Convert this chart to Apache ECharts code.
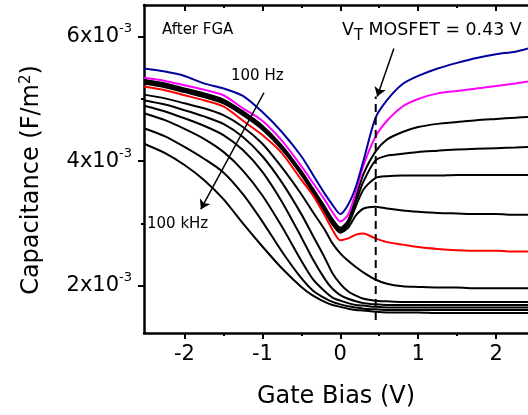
<!DOCTYPE html>
<html><head><meta charset="utf-8">
<script src="https://cdn.jsdelivr.net/npm/echarts@6/dist/echarts.min.js"></script>
<style>html,body{margin:0;padding:0;background:#fff}#c{width:528px;height:415px}</style>
</head><body><div id="c"></div>
<script>
// Gate bias (V)
const gateBias = [-2.52,-2.25,-2,-1.75,-1.5,-1.25,-1,-0.75,-0.5,-0.35,-0.2,-0.1,0,0.1,0.2,0.3,0.45,0.6,0.8,1.0,1.25,1.5,1.75,2.0,2.25,2.41];
// Capacitance (x10^-3 F/m^2), 100 Hz (top) ... 100 kHz (bottom)
const cBlue    = [5.49,5.44,5.37,5.25,5.17,5.05,4.79,4.47,4.08,3.78,3.48,3.30,3.15,3.30,3.59,4.02,4.69,4.98,5.24,5.37,5.49,5.58,5.66,5.72,5.76,5.81];
const cMagenta = [5.34,5.29,5.22,5.15,5.06,4.85,4.65,4.33,3.92,3.65,3.38,3.18,3.03,3.14,3.51,3.94,4.39,4.65,4.88,5.00,5.09,5.13,5.17,5.21,5.25,5.28];
const cA       = [5.31,5.25,5.17,5.09,4.99,4.80,4.57,4.25,3.84,3.56,3.27,3.07,2.93,3.05,3.42,3.80,4.15,4.35,4.47,4.55,4.60,4.63,4.66,4.68,4.70,4.71];
const cB       = [5.29,5.23,5.15,5.07,4.97,4.78,4.55,4.23,3.82,3.54,3.25,3.04,2.90,3.02,3.35,3.68,4.01,4.09,4.12,4.15,4.17,4.19,4.20,4.21,4.22,4.23];
const cC       = [5.27,5.21,5.13,5.05,4.95,4.76,4.53,4.21,3.80,3.52,3.22,3.01,2.87,2.98,3.28,3.55,3.73,3.76,3.77,3.77,3.77,3.78,3.78,3.78,3.78,3.78];
const cD       = [5.25,5.19,5.11,5.03,4.93,4.74,4.51,4.19,3.78,3.49,3.19,2.98,2.85,2.93,3.13,3.24,3.27,3.24,3.21,3.19,3.17,3.16,3.15,3.15,3.14,3.14];
const cRed     = [5.20,5.14,5.06,4.98,4.88,4.65,4.42,4.13,3.70,3.45,3.13,2.90,2.73,2.76,2.82,2.84,2.76,2.70,2.66,2.62,2.59,2.57,2.56,2.56,2.55,2.55];
const cE       = [5.07,5.01,4.93,4.85,4.74,4.55,4.28,3.90,3.47,3.18,2.90,2.68,2.52,2.40,2.30,2.21,2.10,2.03,1.99,1.98,1.97,1.97,1.96,1.96,1.96,1.96];
const cF1      = [4.98,4.91,4.82,4.72,4.60,4.39,4.08,3.66,3.15,2.80,2.45,2.20,2.03,1.91,1.84,1.79,1.76,1.75,1.74,1.74,1.74,1.74,1.74,1.74,1.74,1.74];
const cF2      = [4.89,4.80,4.69,4.57,4.42,4.18,3.83,3.35,2.78,2.42,2.11,1.95,1.85,1.79,1.75,1.72,1.70,1.69,1.69,1.69,1.69,1.69,1.69,1.69,1.69,1.69];
const cF3      = [4.77,4.66,4.52,4.36,4.15,3.85,3.45,2.95,2.40,2.10,1.91,1.81,1.76,1.72,1.69,1.68,1.66,1.65,1.65,1.65,1.65,1.65,1.65,1.65,1.65,1.65];
const cF4      = [4.53,4.40,4.23,4.04,3.82,3.47,3.03,2.55,2.12,1.92,1.80,1.74,1.70,1.67,1.65,1.63,1.62,1.61,1.61,1.61,1.61,1.61,1.61,1.61,1.61,1.61];
const cF5      = [4.28,4.13,3.94,3.70,3.39,3.00,2.63,2.28,1.98,1.84,1.74,1.69,1.66,1.63,1.61,1.60,1.58,1.57,1.57,1.57,1.56,1.56,1.56,1.56,1.56,1.56];

// Annotations (data coordinates)
const vtLine = [[0.455, 1.45], [0.455, 5.04]];
const arrowFreq = [[-0.98, 5.10], [-1.79, 3.23]];
const arrowVT = [[0.688, 5.81], [0.474, 5.04]];

// Ticks
const xMajorTicks = [-2, -1, 0, 1, 2];
const xMinorTicks = [-1.5, -0.5, 0.5, 1.5];
const yMajorTicks = [2, 4, 6];
const yMinorTicks = [3, 5];
const yTickLabels = {2: '2x10', 4: '4x10', 6: '6x10'};

const FONT = 'DejaVu Sans';

function curve(arr, color) {
  return {
    type: 'line', xAxisIndex: 0, yAxisIndex: 0,
    data: gateBias.map((x, i) => [x, arr[i]]),
    showSymbol: false, symbol: 'none', smooth: 0.25,
    lineStyle: {color: color, width: 2}, z: 2, silent: true
  };
}
const series = [];
[cF5, cF4, cF3, cF2, cF1, cE, cD, cC, cB, cA].forEach(a => series.push(curve(a, '#000')));
series.push(curve(cRed, '#ff0000'));
series.push(curve(cMagenta, '#ff00ff'));
series.push(curve(cBlue, '#00009c'));
series.push({
  type: 'line', xAxisIndex: 0, yAxisIndex: 0, data: vtLine, showSymbol: false, symbol: 'none',
  lineStyle: {color: '#000', width: 2, type: [8, 5]}, silent: true, z: 3,
  markLine: {
    silent: true, symbol: ['none', 'arrow'], symbolSize: 9, animation: false,
    label: {show: false},
    lineStyle: {color: '#000', width: 1.5, type: 'solid'},
    data: [
      [{coord: arrowFreq[0]}, {coord: arrowFreq[1]}],
      [{coord: arrowVT[0]}, {coord: arrowVT[1]}]
    ]
  }
});

const xMin = -2.52, xMax = 2.41, yMin = 1.24, yMax = 6.51;
function xAx(pos, ticks, len, inside, main) {
  return {
    type: 'value', position: pos, min: xMin, max: xMax, gridIndex: 0,
    axisLine: {show: main, onZero: false, lineStyle: {color: '#000', width: 2.5}},
    axisTick: {show: true, inside: inside, length: len, customValues: ticks, lineStyle: {color: '#000', width: 2}},
    axisLabel: main && pos === 'bottom' ? {
      show: true, customValues: xMajorTicks, margin: 11, color: '#000',
      fontFamily: FONT, fontSize: 21, formatter: v => String(v)
    } : {show: false},
    splitLine: {show: false},
    name: main && pos === 'bottom' ? 'Gate Bias (V)' : '',
    nameLocation: 'middle', nameGap: 52,
    nameTextStyle: {fontFamily: FONT, fontSize: 24, color: '#000'}
  };
}
function yAx(ticks, len, main) {
  return {
    type: 'value', position: 'left', min: yMin, max: yMax, gridIndex: 0,
    axisLine: {show: main, onZero: false, lineStyle: {color: '#000', width: 2.5}},
    axisTick: {show: true, length: len, customValues: ticks, lineStyle: {color: '#000', width: 2}},
    axisLabel: main ? {
      show: true, customValues: yMajorTicks, margin: 12,
      formatter: v => '{b|' + yTickLabels[Math.round(v)] + '}{s|-3}',
      rich: {
        b: {fontFamily: FONT, fontSize: 21, color: '#000'},
        s: {fontFamily: FONT, fontSize: 13, color: '#000', verticalAlign: 'top', padding: [0, 0, 16, 0]}
      }
    } : {show: false},
    splitLine: {show: false}
  };
}

const chart = echarts.init(document.getElementById('c'), null, {renderer: 'canvas'});
chart.setOption({
  animation: false,
  backgroundColor: '#fff',
  grid: {left: 144, right: 0, top: 5, bottom: 82, containLabel: false},
  xAxis: [
    xAx('bottom', xMajorTicks, 6, false, true),
    xAx('bottom', xMinorTicks, 3, false, false),
    xAx('top', xMajorTicks, 6, true, true),
    xAx('top', xMinorTicks, 3, true, false)
  ],
  yAxis: [yAx(yMajorTicks, 6, true), yAx(yMinorTicks, 3, false)],
  series: series,
  graphic: [
    {type: 'text', x: 32, y: 180, rotation: Math.PI / 2, silent: true,
     style: {
       text: '{t|Capacitance (F/m}{s|2}{t|)}', fill: '#000',
       font: '24px "DejaVu Sans"', align: 'center', textAlign: 'center',
       verticalAlign: 'middle', textVerticalAlign: 'middle',
       rich: {
         t: {fontSize: 24, fontFamily: FONT, fill: '#000', color: '#000'},
         s: {fontSize: 15, fontFamily: FONT, fill: '#000', color: '#000', verticalAlign: 'top', padding: [0, 0, 12, 0]}
       }
     }},
    {type: 'text', x: 162, y: 30.5, silent: true,
     style: {text: 'After FGA', font: '15px "DejaVu Sans"', fill: '#000', verticalAlign: 'middle', textVerticalAlign: 'middle'}},
    {type: 'text', x: 231, y: 76, silent: true,
     style: {text: '100 Hz', font: '15px "DejaVu Sans"', fill: '#000', verticalAlign: 'middle', textVerticalAlign: 'middle'}},
    {type: 'text', x: 147, y: 224.5, silent: true,
     style: {text: '100 kHz', font: '15px "DejaVu Sans"', fill: '#000', verticalAlign: 'middle', textVerticalAlign: 'middle'}},
    {type: 'text', x: 342, y: 30.3, silent: true,
     style: {
       text: '{a|V}{b|T}{a| MOSFET = 0.43 V}', fill: '#000',
       font: '17.4px "DejaVu Sans"', verticalAlign: 'middle', textVerticalAlign: 'middle',
       rich: {
         a: {fontSize: 17.4, fontFamily: FONT, fill: '#000', color: '#000'},
         b: {fontSize: 15, fontFamily: FONT, fill: '#000', color: '#000', verticalAlign: 'bottom', padding: [12, 0, 0, 0]}
       }
     }}
  ]
});
</script></body></html>
